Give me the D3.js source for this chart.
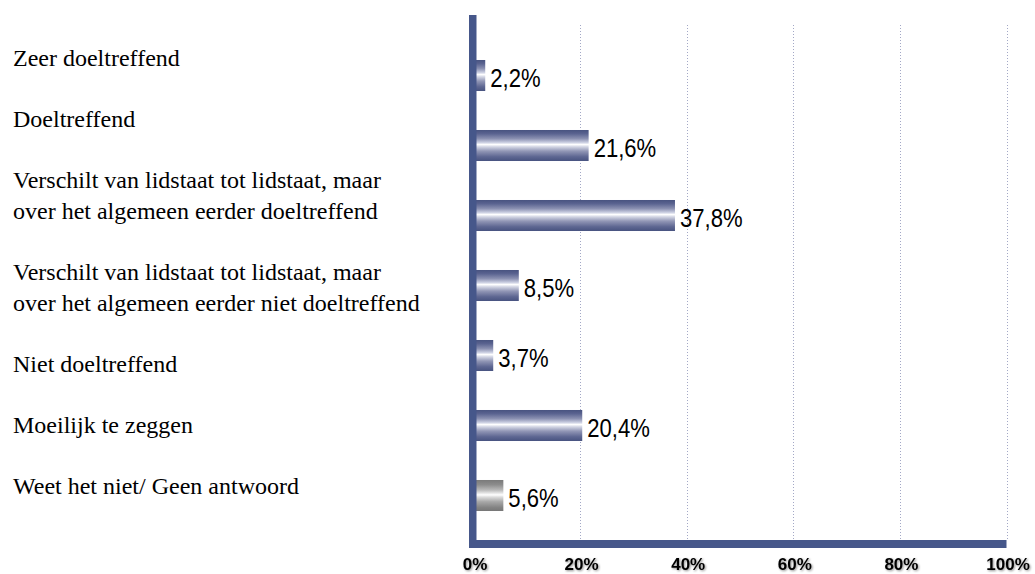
<!DOCTYPE html>
<html>
  <head>
    <meta http-equiv="Content-Type" content="text/html;charset=utf-8"/>
    <style type="text/css">
body {
  margin: 0;
  background: #fff;
}
.cat text {
  font: 24px "Liberation Serif", "Times New Roman", serif;
  fill: #000;
}
.val {
  font: 26px "Liberation Sans", Arial, sans-serif;
  fill: #000;
}
.xaxis text {
  font: bold 17px "Liberation Sans", Arial, sans-serif;
  fill: #000;
  filter: drop-shadow(1.5px 1.5px 1px rgba(0,0,0,.45));
}
.grid line {
  stroke: #a3a8c6;
  stroke-dasharray: 1,2;
}
    </style>
  </head>
  <body>
    <svg></svg>
    <script type="text/javascript" src="https://cdn.jsdelivr.net/npm/d3@7"></script>
    <script type="text/javascript">

// data
var categories = [
  "Zeer doeltreffend",
  "Doeltreffend",
  "Verschilt van lidstaat tot lidstaat, maar over het algemeen eerder doeltreffend",
  "Verschilt van lidstaat tot lidstaat, maar over het algemeen eerder niet doeltreffend",
  "Niet doeltreffend",
  "Moeilijk te zeggen",
  "Weet het niet/ Geen antwoord"
];
var labelLines = [
  ["Zeer doeltreffend"],
  ["Doeltreffend"],
  ["Verschilt van lidstaat tot lidstaat, maar", "over het algemeen eerder doeltreffend"],
  ["Verschilt van lidstaat tot lidstaat, maar", "over het algemeen eerder niet doeltreffend"],
  ["Niet doeltreffend"],
  ["Moeilijk te zeggen"],
  ["Weet het niet/ Geen antwoord"]
];
var values = [2.2, 21.6, 37.8, 8.5, 3.7, 20.4, 5.6];
var tickValues = [0, 20, 40, 60, 80, 100];
var greyCategory = "Weet het niet/ Geen antwoord";

var W = 1035, H = 574;

var svg = d3.select("svg")
    .attr("width", W)
    .attr("height", H);

var x = d3.scaleLinear().domain([0, 100]).range([473.5, 1006.5]);
var y = d3.scaleBand().domain(categories)
    .range([40.5, 530.5])
    .paddingInner(0.557)
    .paddingOuter(0.2785);

var axisColor = "#46578a";
var axisLeftX = 469, axisW = 7.5, axisTop = 15, axisBottomY = 540, axisBottomH = 8;

// gradients
var defs = svg.append("defs");
function grad(id, stops) {
  var g = defs.append("linearGradient").attr("id", id)
      .attr("x1", 0).attr("y1", 0).attr("x2", 0).attr("y2", 1);
  stops.forEach(function(s) {
    g.append("stop").attr("offset", s[0]).attr("stop-color", s[1]);
  });
}
grad("blueBar", [
  [0, "#485380"], [0.12, "#5a6390"], [0.28, "#8b91b2"], [0.4, "#c9cde0"],
  [0.47, "#ffffff"], [0.54, "#d3d6e4"], [0.68, "#9297b6"], [0.86, "#5e6792"], [1, "#485380"]
]);
grad("greyBar", [
  [0, "#7a7a7a"], [0.15, "#8c8c8c"], [0.32, "#b8b8b8"], [0.42, "#e4e4e4"],
  [0.48, "#ffffff"], [0.55, "#dcdcdc"], [0.7, "#a8a8a8"], [0.88, "#848484"], [1, "#777777"]
]);

// grid lines
svg.append("g").attr("class", "grid")
  .selectAll("line")
  .data(tickValues.slice(1))
  .enter().append("line")
    .attr("x1", function(d) { return Math.round(x(d)) + 0.5; })
    .attr("x2", function(d) { return Math.round(x(d)) + 0.5; })
    .attr("y1", 25)
    .attr("y2", axisBottomY);

// bars
svg.append("g").attr("class", "bars")
  .selectAll("rect")
  .data(categories)
  .enter().append("rect")
    .attr("x", x(0))
    .attr("y", function(d) { return y(d); })
    .attr("height", y.bandwidth())
    .attr("width", function(d, i) { return x(values[i]) - x(0); })
    .attr("fill", function(d) { return d === greyCategory ? "url(#greyBar)" : "url(#blueBar)"; });

// value labels
svg.append("g")
  .selectAll("text")
  .data(categories)
  .enter().append("text")
    .attr("class", "val")
    .attr("transform", function(d, i) {
      return "translate(" + (x(values[i]) + 5) + "," + (y(d) + y.bandwidth() / 2 + 11) + ") scale(0.85,1)";
    })
    .text(function(d, i) { return String(values[i]).replace(".", ",") + "%"; });

// axes lines (thick)
svg.append("rect")
    .attr("x", axisLeftX).attr("y", axisTop)
    .attr("width", axisW).attr("height", axisBottomY + axisBottomH - axisTop)
    .attr("fill", axisColor);
svg.append("rect")
    .attr("x", axisLeftX).attr("y", axisBottomY)
    .attr("width", x(100) - axisLeftX).attr("height", axisBottomH)
    .attr("fill", axisColor);

// x axis tick labels
var xAxis = d3.axisBottom(x)
    .tickValues(tickValues)
    .tickSize(0)
    .tickFormat(function(d) { return d + "%"; });

svg.append("g")
    .attr("class", "xaxis")
    .attr("transform", "translate(1," + 555 + ")")
    .call(xAxis)
    .call(function(g) { g.select(".domain").remove(); });

// category labels, set as a text column with a blank line between items
var lineH = 30.6, firstBase = 66;
var lineIdx = 0;
var cat = svg.append("g").attr("class", "cat");
labelLines.forEach(function(lines) {
  lines.forEach(function(t) {
    cat.append("text")
        .attr("x", 13)
        .attr("y", firstBase + lineIdx * lineH)
        .text(t);
    lineIdx++;
  });
  lineIdx++;
});

    </script>
  </body>
</html>
